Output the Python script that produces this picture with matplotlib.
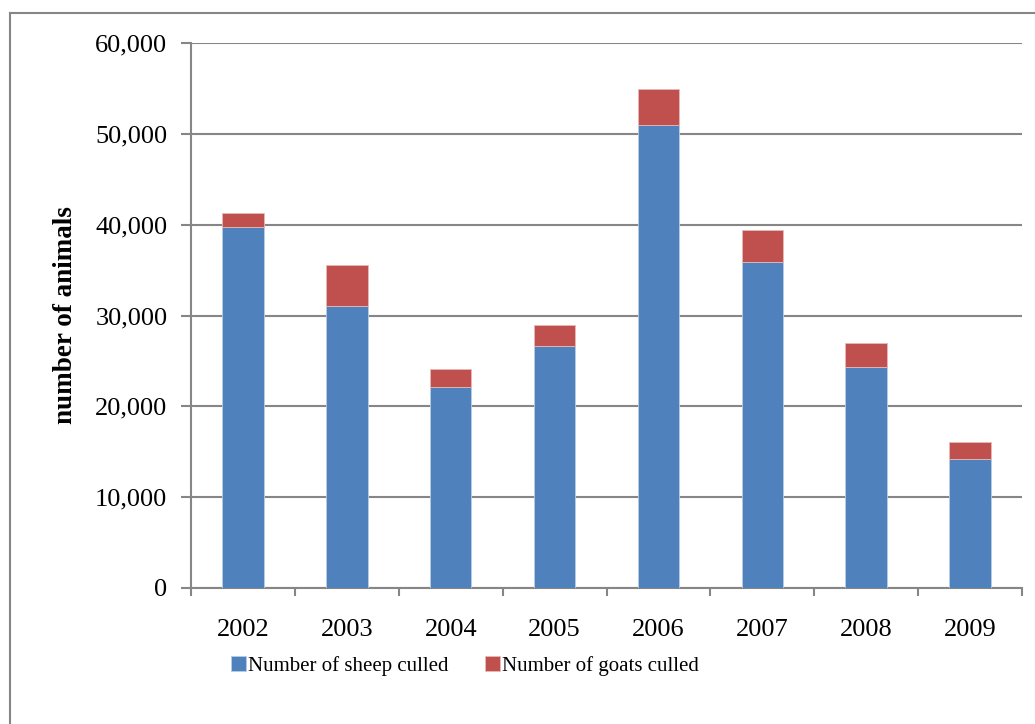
import matplotlib.pyplot as plt
import numpy as np
from matplotlib.lines import Line2D

plt.rcParams['font.family'] = ['Liberation Serif', 'DejaVu Serif']

years = ['2002', '2003', '2004', '2005', '2006', '2007', '2008', '2009']
sheep = [39700, 31030, 22180, 26610, 51010, 35860, 24340, 14190]
goats = [1570, 4570, 1980, 2340, 3950, 3580, 2630, 1840]

blue = '#4f81bd'
red = '#c0504d'
grid_grey = '#868686'

fig = plt.figure(figsize=(10.35, 7.24), dpi=100)
ax = fig.add_axes([191 / 1035, 1 - 588 / 724, (1022 - 191) / 1035, (588 - 43) / 724])

x = np.arange(len(years))
ax.bar(x, sheep, width=0.4, color=blue, edgecolor='#b9cde5', linewidth=0.6,
       label='Number of sheep culled', zorder=3)
ax.bar(x, goats, width=0.4, bottom=sheep, color=red, edgecolor='#e6b9b8',
       linewidth=0.6, label='Number of goats culled', zorder=3)

ax.set_xlim(-0.5, len(years) - 0.5)
ax.set_ylim(0, 60000)
ax.set_yticks(range(0, 60001, 10000))
ax.set_yticklabels(['{:,}'.format(v) for v in range(0, 60001, 10000)], fontsize=19)
ax.set_xticks(x)
ax.set_xticklabels(years, fontsize=19)
ax.set_xticks(np.arange(-0.5, len(years)), minor=True)
ax.tick_params(axis='x', which='major', length=0, pad=22)
ax.tick_params(axis='x', which='minor', length=6, color=grid_grey, width=1.5)
ax.tick_params(axis='y', length=7, color=grid_grey, width=1.5, pad=10)
ax.yaxis.grid(True, color=grid_grey, linewidth=1.5, zorder=0)
ax.set_axisbelow(True)

for s in ['top', 'right']:
    ax.spines[s].set_visible(False)
for s in ['left', 'bottom']:
    ax.spines[s].set_color(grid_grey)
    ax.spines[s].set_linewidth(1.5)

ax.set_ylabel('number of animals', fontsize=19.5, fontweight='bold', labelpad=12)

handles, labels = ax.get_legend_handles_labels()
fig.legend(handles, labels, loc='center', bbox_to_anchor=(465 / 1035, 1 - 666 / 724),
           ncol=2, frameon=False, fontsize=15, handlelength=0.72, handleheight=0.75,
           handletextpad=0.08, columnspacing=1.75)

# outer chart frame (only left and top visible)
fig.add_artist(Line2D([10 / 1035, 10 / 1035], [0, 1 - 13 / 724], color=grid_grey,
                      linewidth=1.5, transform=fig.transFigure))
fig.add_artist(Line2D([10 / 1035, 1], [1 - 13 / 724, 1 - 13 / 724], color=grid_grey,
                      linewidth=1.5, transform=fig.transFigure))

fig.savefig('out.png', dpi=100)
